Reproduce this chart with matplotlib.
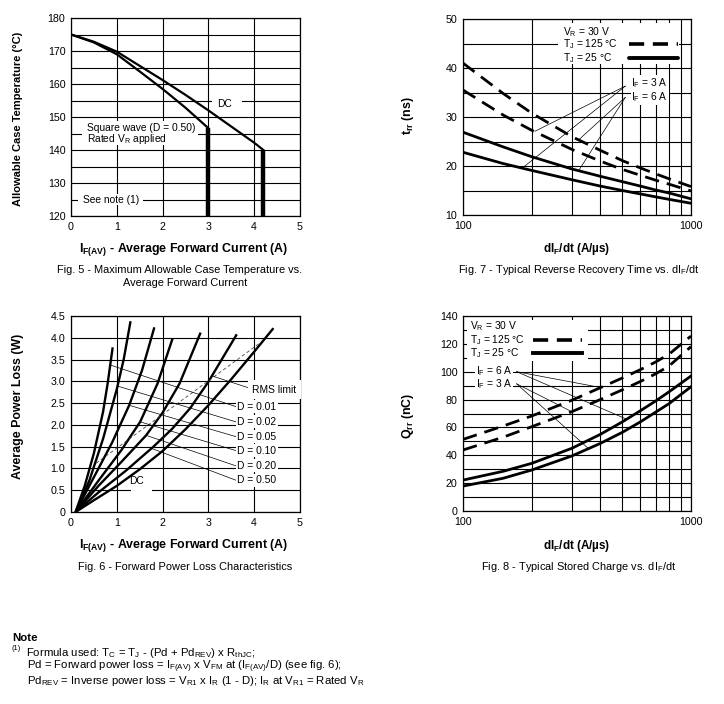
import matplotlib
matplotlib.use('Agg')
import matplotlib.pyplot as plt
from matplotlib.patches import Rectangle
from matplotlib.ticker import FixedLocator, NullFormatter

plt.rcParams['font.family'] = ['Liberation Sans', 'DejaVu Sans']
plt.rcParams['mathtext.fontset'] = 'custom'
plt.rcParams['mathtext.rm'] = 'Liberation Sans'
plt.rcParams['mathtext.it'] = 'Liberation Sans'
plt.rcParams['mathtext.bf'] = 'Liberation Sans:bold'
plt.rcParams['mathtext.default'] = 'rm'

# ---------------- data ----------------
# Fig 5
f5_sq_x = [0, 0.5, 1.0, 1.5, 2.0, 2.5, 3.0]
f5_sq_y = [175, 172.6, 169.0, 163.8, 158.5, 152.8, 146.6]
f5_dc_x = [0, 0.5, 1.0, 1.5, 2.0, 2.5, 3.0, 3.5, 4.0, 4.2]
f5_dc_y = [175, 172.8, 169.8, 165.5, 161.2, 156.7, 152.0, 147.1, 142.2, 140.0]

# Fig 6 (x, y) per duty cycle
f6_labels = ['D = 0.01', 'D = 0.02', 'D = 0.05', 'D = 0.10', 'D = 0.20', 'D = 0.50']
f6_d001_x = [0.1, 0.3, 0.5, 0.7, 0.8, 0.91]
f6_d001_y = [0, 0.6, 1.35, 2.3, 2.95, 3.78]
f6_d002_x = [0.1, 0.4, 0.7, 1.0, 1.15, 1.30]
f6_d002_y = [0, 0.72, 1.68, 2.82, 3.5, 4.38]
f6_d005_x = [0.1, 0.5, 0.9, 1.27, 1.55, 1.82]
f6_d005_y = [0, 0.8, 1.6, 2.45, 3.25, 4.24]
f6_d010_x = [0.1, 0.6, 1.1, 1.51, 1.89, 2.22]
f6_d010_y = [0, 0.72, 1.42, 2.07, 2.95, 3.99]
f6_d020_x = [0.1, 0.6, 1.1, 1.64, 2.0, 2.37, 2.83]
f6_d020_y = [0, 0.6, 1.15, 1.76, 2.28, 2.95, 4.12]
f6_d050_x = [0.1, 0.6, 1.2, 1.8, 2.2, 2.6, 3.0, 3.62]
f6_d050_y = [0, 0.45, 0.95, 1.5, 1.9, 2.38, 2.99, 4.08]
f6_dc_x = [0.1, 0.5, 1.0, 1.5, 2.0, 2.5, 3.0, 3.5, 4.0, 4.42]
f6_dc_y = [0, 0.27, 0.6, 0.98, 1.4, 1.9, 2.45, 3.05, 3.68, 4.22]
f6_rms_x = [0.55, 4.15]
f6_rms_y = [1.12, 3.9]
f6_label_y = [2.42, 2.07, 1.73, 1.41, 1.06, 0.73]
f6_leader_x = [0.87, 1.02, 1.27, 1.51, 1.64, 1.76]
f6_leader_y = [3.37, 2.89, 2.45, 2.07, 1.76, 1.46]

# Fig 7 / Fig 8 common x (dIF/dt, A/us)
didt = [100, 150, 200, 300, 400, 500, 600, 700, 800, 1000]
f7_6a_125 = [41.0, 34.8, 30.8, 26.0, 23.2, 21.1, 19.6, 18.4, 17.4, 15.8]
f7_3a_125 = [35.5, 30.4, 27.3, 23.4, 21.0, 19.3, 18.1, 17.1, 16.3, 14.9]
f7_6a_25 = [26.9, 23.9, 21.9, 19.4, 17.9, 16.8, 15.9, 15.1, 14.5, 13.3]
f7_3a_25 = [22.8, 20.5, 19.1, 17.2, 15.9, 15.0, 14.3, 13.7, 13.2, 12.4]

f8_6a_125 = [51.4, 61.0, 68.2, 79.5, 88.5, 95.5, 101.5, 107.0, 112.5, 125.6]
f8_3a_125 = [43.8, 53.0, 60.5, 71.3, 80.0, 87.0, 93.0, 98.5, 104.0, 118.0]
f8_6a_25 = [22.2, 28.5, 34.2, 45.0, 55.0, 64.0, 72.0, 79.0, 85.5, 96.9]
f8_3a_25 = [17.9, 23.5, 29.4, 39.5, 48.5, 56.5, 64.0, 71.0, 77.0, 89.2]

# ---------------- figure ----------------
W, H = 724, 704
fig = plt.figure(figsize=(W / 100, H / 100), dpi=100)

def ax_px(l, t, r, b):
    return fig.add_axes([l / W, 1 - b / H, (r - l) / W, (b - t) / H])

def ftext(x, y, s, **kw):
    fig.text(x / W, 1 - y / H, s, **kw)

FS = 7.9     # captions
AFS = 7.4    # annotations inside plots
TFS = 7.7    # tick labels
LFS = 8.9    # axis labels
NFS = 8.2    # note
GRID = dict(color='black', linewidth=0.8)
DASH = (5.2, 2.9)

def style(ax):
    ax.set_axisbelow(True)
    for sp in ax.spines.values():
        sp.set_linewidth(0.9)
    ax.tick_params(which='both', length=0, pad=4, labelsize=TFS)
    ax.grid(True, which='both', **GRID)

WBOX = dict(facecolor='white', edgecolor='none')

# ---- Fig 5 ----
ax5 = ax_px(71, 18, 300, 216)
ax5.set_xlim(0, 5)
ax5.set_ylim(120, 180)
ax5.set_xticks(range(0, 6))
ax5.set_yticks(range(120, 181, 10))
ax5.yaxis.set_minor_locator(FixedLocator(range(125, 180, 10)))
style(ax5)
ax5.plot(f5_sq_x, f5_sq_y, color='black', lw=1.6, zorder=3)
ax5.plot(f5_dc_x, f5_dc_y, color='black', lw=1.6, zorder=3)
ax5.plot([f5_sq_x[-1]] * 2, [f5_sq_y[-1], 120], color='black', lw=3.2, zorder=3, solid_capstyle='butt')
ax5.plot([f5_dc_x[-1]] * 2, [f5_dc_y[-1], 120], color='black', lw=3.2, zorder=3, solid_capstyle='butt')
ax5.add_patch(Rectangle((3.07, 152.6), 0.66, 4.2, **WBOX, zorder=1))
ax5.text(3.36, 153.8, 'DC', fontsize=AFS, ha='center', va='center', zorder=4)
ax5.add_patch(Rectangle((0.23, 141.6), 2.55, 7.2, **WBOX, zorder=1))
ax5.text(0.36, 146.8, 'Square wave (D = 0.50)', fontsize=AFS, ha='left', va='center', zorder=4)
ax5.text(0.36, 143.4, r'Rated V$_\mathrm{R}$ applied', fontsize=AFS, ha='left', va='center', zorder=4)
ax5.add_patch(Rectangle((0.15, 123.3), 1.42, 3.4, **WBOX, zorder=1))
ax5.text(0.26, 125.0, 'See note (1)', fontsize=AFS, ha='left', va='center', zorder=4)

ftext(18, 119, 'Allowable Case Temperature (°C)', rotation=90, ha='center', va='center',
      fontsize=8.0, fontweight='bold')
ftext(184, 249, r'I$_\mathbf{F(AV)}$ - Average Forward Current (A)', ha='center', va='center',
      fontsize=LFS, fontweight='bold')
ftext(180, 270, 'Fig. 5 - Maximum Allowable Case Temperature vs.', ha='center', va='center', fontsize=FS)
ftext(185, 283, 'Average Forward Current', ha='center', va='center', fontsize=FS)

# ---- Fig 6 ----
ax6 = ax_px(71, 316, 300, 512)
ax6.set_xlim(0, 5)
ax6.set_ylim(0, 4.5)
ax6.set_xticks(range(0, 6))
yt6 = [0, 0.5, 1.0, 1.5, 2.0, 2.5, 3.0, 3.5, 4.0, 4.5]
ax6.set_yticks(yt6)
ax6.set_yticklabels(['0'] + ['%.1f' % v for v in yt6[1:]])
style(ax6)
curves6 = [(f6_d001_x, f6_d001_y), (f6_d002_x, f6_d002_y), (f6_d005_x, f6_d005_y),
           (f6_d010_x, f6_d010_y), (f6_d020_x, f6_d020_y), (f6_d050_x, f6_d050_y),
           (f6_dc_x, f6_dc_y)]
for cx, cy in curves6:
    ax6.plot(cx, cy, color='black', lw=1.7, zorder=3, solid_capstyle='butt')
ax6.plot(f6_rms_x, f6_rms_y, color='#444444', lw=0.6, dashes=(4, 3), zorder=3)
for lab, ly, sx, sy in zip(f6_labels, f6_label_y, f6_leader_x, f6_leader_y):
    ax6.plot([sx, 3.6], [sy, ly], color='black', lw=0.5, zorder=3)
    ax6.text(3.63, ly, lab, fontsize=AFS, ha='left', va='center', zorder=4,
             bbox=dict(facecolor='white', edgecolor='none', pad=1.2))
ax6.plot([3.09, 3.91], [3.12, 2.84], color='black', lw=0.5, zorder=3)
ax6.text(3.96, 2.81, 'RMS limit', fontsize=AFS, ha='left', va='center', zorder=4,
         bbox=dict(facecolor='white', edgecolor='none', pad=3.0))
ax6.add_patch(Rectangle((1.31, 0.44), 0.46, 0.45, **WBOX, zorder=1))
ax6.text(1.44, 0.72, 'DC', fontsize=AFS, ha='center', va='center', zorder=4)

ftext(18, 406, 'Average Power Loss (W)', rotation=90, ha='center', va='center',
      fontsize=LFS, fontweight='bold')
ftext(184, 546, r'I$_\mathbf{F(AV)}$ - Average Forward Current (A)', ha='center', va='center',
      fontsize=LFS, fontweight='bold')
ftext(185, 567, 'Fig. 6 - Forward Power Loss Characteristics', ha='center', va='center', fontsize=FS)

# ---- Fig 7 ----
ax7 = ax_px(463, 19, 691, 215)
ax7.set_xscale('log')
ax7.set_xlim(100, 1000)
ax7.set_ylim(10, 50)
ax7.set_xticks([100, 1000])
ax7.set_xticklabels(['100', '1000'])
ax7.xaxis.set_minor_locator(FixedLocator(range(200, 1000, 100)))
ax7.xaxis.set_minor_formatter(NullFormatter())
ax7.set_yticks(range(10, 51, 10))
ax7.yaxis.set_minor_locator(FixedLocator(range(15, 50, 10)))
style(ax7)
ax7.plot(didt, f7_6a_125, color='black', lw=2.0, dashes=DASH, zorder=3)
ax7.plot(didt, f7_3a_125, color='black', lw=2.0, dashes=DASH, zorder=3)
ax7.plot(didt, f7_6a_25, color='black', lw=2.0, zorder=3)
ax7.plot(didt, f7_3a_25, color='black', lw=2.0, zorder=3)
ax7.add_patch(Rectangle((262, 40.9), 885 - 262, 8.3, **WBOX, zorder=1))
ax7.text(275, 47.35, r'V$_\mathrm{R}$ = 30 V', fontsize=AFS, ha='left', va='center', zorder=4)
ax7.text(275, 44.8, r'T$_\mathrm{J}$ = 125 °C', fontsize=AFS, ha='left', va='center', zorder=4)
ax7.text(275, 42.05, r'T$_\mathrm{J}$ = 25 °C', fontsize=AFS, ha='left', va='center', zorder=4)
ax7.plot([533, 880], [44.8, 44.8], color='black', lw=2.6, dashes=(4.2, 2.4), zorder=4)
ax7.plot([533, 880], [42.05, 42.05], color='black', lw=2.8, zorder=4, solid_capstyle='round')
for tx, ty in [(207, 27.1), (181, 19.5)]:
    ax7.plot([515, tx], [36.3, ty], color='black', lw=0.5, zorder=3)
for tx, ty in [(321, 25.3), (321, 19.0)]:
    ax7.plot([515, tx], [34.0, ty], color='black', lw=0.5, zorder=3)
ax7.text(548, 37.0, r'I$_\mathrm{F}$ = 3 A', fontsize=AFS, ha='left', va='center', zorder=4,
         bbox=dict(facecolor='white', edgecolor='none', pad=0.6))
ax7.text(548, 34.0, r'I$_\mathrm{F}$ = 6 A', fontsize=AFS, ha='left', va='center', zorder=4,
         bbox=dict(facecolor='white', edgecolor='none', pad=0.6))

ftext(408, 116, r't$_\mathbf{rr}$ (ns)', rotation=90, ha='center', va='center',
      fontsize=LFS, fontweight='bold')
ftext(577, 249, r'dI$_\mathbf{F}$/dt (A/µs)', ha='center', va='center',
      fontsize=8.4, fontweight='bold')
ftext(579, 270, r'Fig. 7 - Typical Reverse Recovery Time vs. dI$_\mathrm{F}$/dt', ha='center',
      va='center', fontsize=FS)

# ---- Fig 8 ----
ax8 = ax_px(463, 316, 691, 511)
ax8.set_xscale('log')
ax8.set_xlim(100, 1000)
ax8.set_ylim(0, 140)
ax8.set_xticks([100, 1000])
ax8.set_xticklabels(['100', '1000'])
ax8.xaxis.set_minor_locator(FixedLocator(range(200, 1000, 100)))
ax8.xaxis.set_minor_formatter(NullFormatter())
ax8.set_yticks(range(0, 141, 20))
ax8.yaxis.set_minor_locator(FixedLocator(range(10, 140, 20)))
style(ax8)
ax8.plot(didt, f8_6a_125, color='black', lw=2.0, dashes=DASH, zorder=3)
ax8.plot(didt, f8_3a_125, color='black', lw=2.0, dashes=DASH, zorder=3)
ax8.plot(didt, f8_6a_25, color='black', lw=2.0, zorder=3)
ax8.plot(didt, f8_3a_25, color='black', lw=2.0, zorder=3)
ax8.add_patch(Rectangle((104, 108.0), 353 - 104, 29.3, **WBOX, zorder=1))
ax8.text(107, 132.6, r'V$_\mathrm{R}$ = 30 V', fontsize=AFS, ha='left', va='center', zorder=4)
ax8.text(107, 122.9, r'T$_\mathrm{J}$ = 125 °C', fontsize=AFS, ha='left', va='center', zorder=4)
ax8.text(107, 113.6, r'T$_\mathrm{J}$ = 25 °C', fontsize=AFS, ha='left', va='center', zorder=4)
ax8.plot([203, 332], [122.9, 122.9], color='black', lw=2.6, dashes=(4.2, 2.4), zorder=4)
ax8.plot([203, 332], [113.6, 113.6], color='black', lw=2.8, zorder=4)
for tx, ty in [(406, 88.5), (524, 65.8)]:
    ax8.plot([172, tx], [100, ty], color='black', lw=0.5, zorder=3)
for tx, ty in [(300, 71.3), (354, 45.0)]:
    ax8.plot([172, tx], [91.3, ty], color='black', lw=0.5, zorder=3)
ax8.text(114, 100.3, r'I$_\mathrm{F}$ = 6 A', fontsize=AFS, ha='left', va='center', zorder=4,
         bbox=dict(facecolor='white', edgecolor='none', pad=0.6))
ax8.text(114, 91.3, r'I$_\mathrm{F}$ = 3 A', fontsize=AFS, ha='left', va='center', zorder=4,
         bbox=dict(facecolor='white', edgecolor='none', pad=0.6))

ftext(408, 416, r'Q$_\mathbf{rr}$ (nC)', rotation=90, ha='center', va='center',
      fontsize=LFS, fontweight='bold')
ftext(577, 546, r'dI$_\mathbf{F}$/dt (A/µs)', ha='center', va='center',
      fontsize=8.4, fontweight='bold')
ftext(579, 567, r'Fig. 8 - Typical Stored Charge vs. dI$_\mathrm{F}$/dt', ha='center',
      va='center', fontsize=FS)

# ---- Note ----
ftext(12, 638, 'Note', ha='left', va='center', fontsize=NFS, fontweight='bold')
ftext(12, 649, '(1)', ha='left', va='center', fontsize=5.4)
ftext(26, 653, r'Formula used: T$_\mathrm{C}$ = T$_\mathrm{J}$ - (Pd + Pd$_\mathrm{REV}$) x R$_\mathrm{thJC}$;',
      ha='left', va='center', fontsize=NFS)
ftext(27, 667, r'Pd = Forward power loss = I$_\mathrm{F(AV)}$ x V$_\mathrm{FM}$ at (I$_\mathrm{F(AV)}$/D) (see fig. 6);',
      ha='left', va='center', fontsize=NFS)
ftext(27, 681, r'Pd$_\mathrm{REV}$ = Inverse power loss = V$_\mathrm{R1}$ x I$_\mathrm{R}$ (1 - D); I$_\mathrm{R}$ at V$_\mathrm{R1}$ = Rated V$_\mathrm{R}$',
      ha='left', va='center', fontsize=NFS)

fig.savefig('out.png', dpi=100, facecolor='white')
